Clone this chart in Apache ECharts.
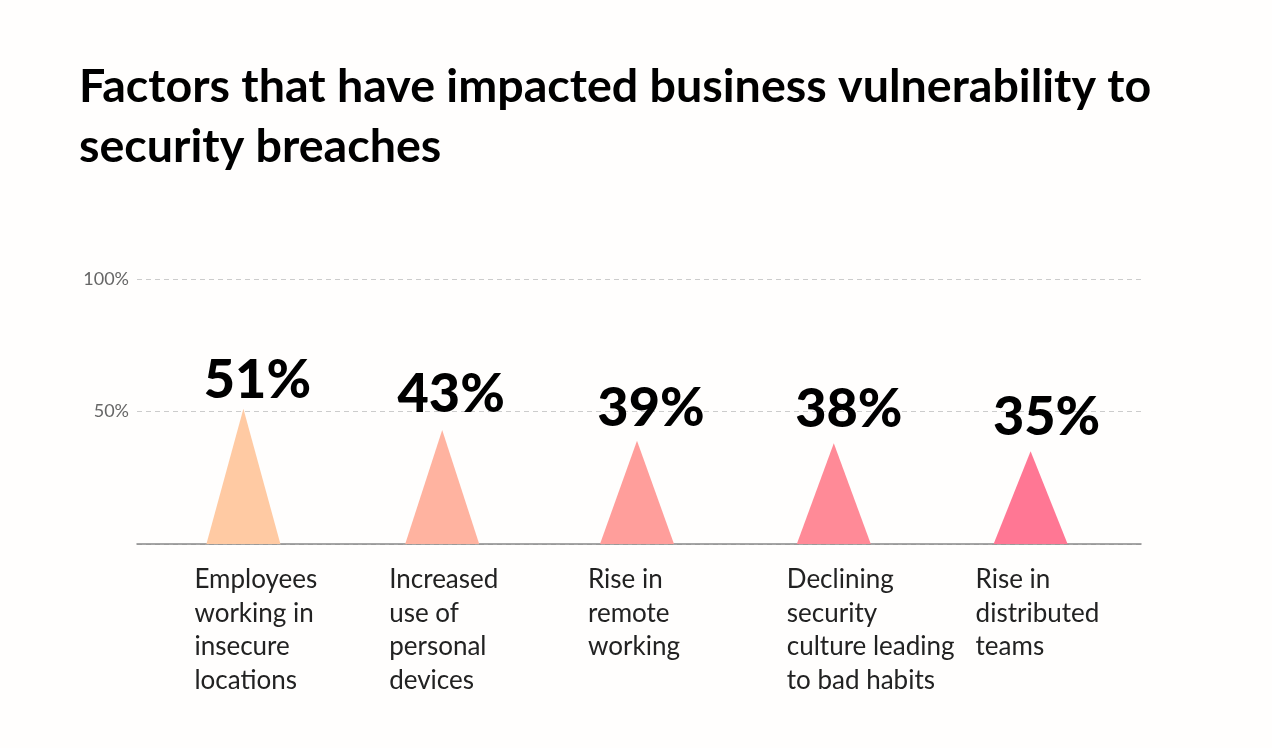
<!DOCTYPE html>
<html><head><meta charset="utf-8">
<script src="https://cdn.jsdelivr.net/npm/echarts@6/dist/echarts.min.js"></script>
<style>html,body{margin:0;padding:0;background:#fffefd;}#c{width:1272px;height:748px;}</style>
</head><body><div id="c"></div>
<script>
const titleText = 'Factors that have impacted business vulnerability to\nsecurity breaches';
const categories = [
  'Employees\nworking in\ninsecure\nlocations',
  'Increased\nuse of\npersonal\ndevices',
  'Rise in\nremote\nworking',
  'Declining\nsecurity\nculture leading\nto bad habits',
  'Rise in\ndistributed\nteams'
];
const values = [51, 43, 39, 38, 35];
const yTicks = [0, 50, 100];
const colors = ['#FFCAA3', '#FFB3A0', '#FF9E9B', '#FF8A97', '#FF7794'];
const symOffsets = [6, 4, -2, -6, -10];
const labelShift = [-43, -49, -51, -53, -65];
const valueLabelOffsets = [[20, 4], [13, -3], [12, 0], [9, -2], [6, -2]];

const rich = {};
labelShift.forEach((s, i) => {
  rich['c' + i] = { fontSize: 26, lineHeight: 33.5, color: '#222', fontFamily: 'Lato', padding: [0, 0, 0, s] };
});

const chart = echarts.init(document.getElementById('c'));
chart.setOption({
  backgroundColor: '#fffefd',
  title: {
    text: titleText, left: 74, top: 52,
    textStyle: { fontFamily: 'Lato', fontWeight: 'bold', fontSize: 46.6, lineHeight: 60, color: '#000' }
  },
  grid: { left: 137, right: 131, top: 279, bottom: 204 },
  xAxis: {
    type: 'category', data: categories,
    axisLine: { lineStyle: { color: '#888', width: 1.5 } },
    axisTick: { show: false },
    axisLabel: {
      interval: 0, align: 'left', verticalAlign: 'top', margin: 19,
      formatter: (v, i) => v.split('\n').map(l => '{c' + i + '|' + l + '}').join('\n'),
      rich: rich
    }
  },
  yAxis: {
    type: 'value', min: yTicks[0], max: yTicks[yTicks.length - 1], interval: 50,
    axisLine: { show: false }, axisTick: { show: false },
    axisLabel: {
      margin: 8, color: '#666', fontSize: 18, fontFamily: 'Lato',
      formatter: v => v === 0 ? '' : v + '%'
    },
    splitLine: { lineStyle: { color: '#ccc', type: [5, 4], width: 1 } }
  },
  series: [{
    type: 'pictorialBar',
    symbol: 'triangle',
    symbolSize: [74, '100%'],
    data: values.map((v, i) => ({
      value: v,
      symbolOffset: [symOffsets[i], 0],
      itemStyle: { color: colors[i] },
      label: { offset: valueLabelOffsets[i] }
    })),
    label: {
      show: true, position: 'top',
      formatter: '{c}%', fontFamily: 'Lato', fontWeight: 900, fontSize: 54, color: '#000'
    },
    z: 3
  }]
});
</script></body></html>
